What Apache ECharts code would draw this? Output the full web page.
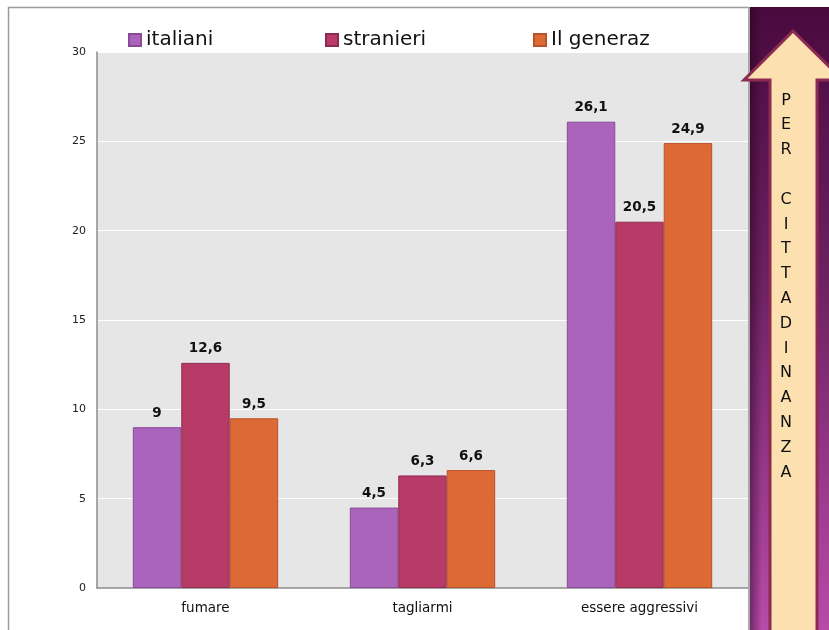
<!DOCTYPE html>
<html>
<head>
<meta charset="utf-8">
<script src="https://cdn.jsdelivr.net/npm/echarts@6/dist/echarts.min.js"></script>
<style>
  html, body { margin: 0; padding: 0; background: #ffffff; }
  #chart { width: 829px; height: 630px; }
</style>
</head>
<body>
<div id="chart"></div>
<script>
// Categories and series values
const categories = ['fumare', 'tagliarmi', 'essere aggressivi'];
const seriesNames = ['italiani', 'stranieri', 'Il generaz'];
const italiani = [9, 4.5, 26.1];
const stranieri = [12.6, 6.3, 20.5];
const secondaGenerazione = [9.5, 6.6, 24.9];
const yTicks = [0, 5, 10, 15, 20, 25, 30];
const sideLetters = ['P', 'E', 'R', '', 'C', 'I', 'T', 'T', 'A', 'D', 'I', 'N', 'A', 'N', 'Z', 'A'];

const colors = ['#aa64bb', '#b83b67', '#dd6a35'];
const borders = ['#8a4a98', '#8e2a52', '#b8532a'];
const fontFamily = 'DejaVu Sans, Verdana, sans-serif';

const chart = echarts.init(document.getElementById('chart'), null, { renderer: 'canvas' });

function barSeries(name, values, idx) {
  return {
    name: name,
    type: 'bar',
    data: values,
    barGap: '0%',
    barCategoryGap: '33%',
    itemStyle: { color: colors[idx], borderColor: borders[idx], borderWidth: 1 },
    label: {
      show: true,
      position: 'top',
      distance: 7,
      fontFamily: fontFamily,
      fontWeight: 'bold',
      fontSize: 13.5,
      color: '#111',
      formatter: p => String(p.value).replace('.', ',')
    },
    emphasis: { disabled: true }
  };
}

const legendLefts = [123, 320, 528];

chart.setOption({
  animation: false,
  backgroundColor: '#ffffff',
  grid: {
    left: 97, right: 81, top: 52, bottom: 42,
    show: true, backgroundColor: '#e6e6e6', borderWidth: 0
  },
  legend: seriesNames.map((n, i) => ({
    data: [n],
    left: legendLefts[i],
    top: 25,
    itemWidth: 12,
    itemHeight: 12,
    itemGap: 5,
    icon: 'rect',
    textStyle: { fontFamily: fontFamily, fontSize: 20, color: '#111' },
    selectedMode: false
  })),
  xAxis: {
    type: 'category',
    data: categories,
    axisTick: { show: false },
    axisLine: { show: true, lineStyle: { color: '#8c8c8c', width: 1.5 } },
    axisLabel: { fontFamily: fontFamily, fontSize: 13.5, color: '#111', margin: 13 }
  },
  yAxis: {
    type: 'value',
    min: yTicks[0],
    max: yTicks[yTicks.length - 1],
    interval: yTicks[1] - yTicks[0],
    axisLine: { show: true, lineStyle: { color: '#8c8c8c', width: 1.5 } },
    axisTick: { show: false },
    axisLabel: { fontFamily: fontFamily, fontSize: 11, color: '#222', margin: 11 },
    splitLine: { show: true, lineStyle: { color: '#ffffff', width: 1 } }
  },
  series: [
    barSeries(seriesNames[0], italiani, 0),
    barSeries(seriesNames[1], stranieri, 1),
    barSeries(seriesNames[2], secondaGenerazione, 2)
  ],
  graphic: [
    // frame lines around the chart
    { type: 'line', shape: { x1: 8, y1: 7.5, x2: 750, y2: 7.5 }, style: { stroke: '#9a9a9a', lineWidth: 1.5 }, z: 10 },
    { type: 'line', shape: { x1: 8.5, y1: 7, x2: 8.5, y2: 630 }, style: { stroke: '#9a9a9a', lineWidth: 1.5 }, z: 10 },
    // purple side panel
    {
      type: 'rect', shape: { x: 748, y: 7, width: 81, height: 623 }, z: 10,
      style: {
        fill: new echarts.graphic.LinearGradient(0, 0, 0, 1, [
          { offset: 0, color: '#4a0a3e' },
          { offset: 0.45, color: '#6e2163' },
          { offset: 1, color: '#b84ba9' }
        ])
      }
    },
    {
      type: 'rect', shape: { x: 750, y: 7, width: 12, height: 623 }, z: 11,
      style: {
        fill: new echarts.graphic.LinearGradient(0, 0, 1, 0, [
          { offset: 0, color: 'rgba(30,0,25,0.45)' },
          { offset: 1, color: 'rgba(30,0,25,0)' }
        ])
      }
    },
    { type: 'line', shape: { x1: 749, y1: 7, x2: 749, y2: 630 }, style: { stroke: '#a8a8a8', lineWidth: 2 }, z: 12 },
    // up arrow
    {
      type: 'polygon', z: 13,
      shape: { points: [[793, 31], [843, 80], [817, 80], [817, 640], [770, 640], [770, 80], [744, 80]] },
      style: { fill: '#fde0b0', stroke: '#8b2b52', lineWidth: 3 }
    },
    {
      type: 'text', z: 14,
      style: {
        x: 786, y: 88,
        text: sideLetters.join('\n'),
        fontFamily: fontFamily,
        fontSize: 16,
        lineHeight: 24.8,
        align: 'center',
        verticalAlign: 'top',
        fill: '#111'
      }
    }
  ]
});
</script>
</body>
</html>
